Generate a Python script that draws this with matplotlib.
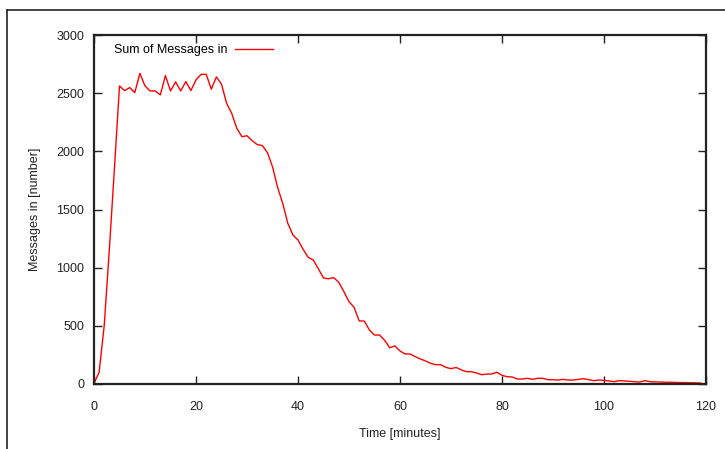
import matplotlib
matplotlib.use("Agg")
import matplotlib.pyplot as plt
from matplotlib.lines import Line2D

plt.rcParams['font.family'] = ['Liberation Sans', 'DejaVu Sans']

minutes = list(range(0, 120))
messages_in = [
    5, 100, 500, 1150, 1850, 2562, 2522, 2548, 2505, 2670,
    2562, 2519, 2519, 2485, 2651, 2519, 2597, 2519, 2600, 2522,
    2614, 2662, 2662, 2534, 2640, 2577, 2413, 2327, 2198, 2126,
    2134, 2092, 2058, 2050, 1989, 1868, 1690, 1553, 1381, 1281,
    1238, 1158, 1089, 1066, 989, 911, 905, 914, 874, 794,
    708, 659, 542, 541, 464, 421, 421, 375, 312, 327,
    284, 258, 258, 235, 215, 198, 178, 166, 166, 143,
    132, 142, 122, 106, 106, 95, 80, 85, 86, 101,
    74, 63, 60, 43, 43, 49, 40, 49, 49, 37,
    37, 34, 40, 34, 34, 40, 46, 37, 29, 34,
    31, 26, 20, 29, 26, 23, 20, 17, 29, 20,
    18, 17, 15, 15, 14, 12, 12, 10, 10, 8,
]
x_ticks = [0, 20, 40, 60, 80, 100, 120]
y_ticks = [0, 500, 1000, 1500, 2000, 2500, 3000]
series_label = "Sum of Messages in"

W, H = 725, 449
fig = plt.figure(figsize=(W / 100, H / 100), dpi=100)
ax = fig.add_axes([94 / W, (H - 384) / H, (706 - 94) / W, (384 - 35) / H])

ax.plot(minutes, messages_in, color='#ff0000', lw=1.0, label=series_label)

ax.set_xlim(0, 120)
ax.set_ylim(0, 3000)
ax.set_xticks(x_ticks)
ax.set_yticks(y_ticks)
ax.tick_params(direction='in', length=6, width=1, top=True, right=True,
               labelsize=9, colors='#222222', pad=7)
ax.tick_params(axis='x', pad=12)
for s in ax.spines.values():
    s.set_linewidth(1.6)
    s.set_color('#222222')

ax.set_xlabel("Time [minutes]", fontsize=9, color='#222222')
ax.set_ylabel("Messages in [number]", fontsize=9, color='#222222')
ax.xaxis.set_label_coords(0.5, (384 - 428) / 349)
ax.yaxis.set_label_coords((41 - 94) / 612, 0.5)

leg = ax.legend(loc='center left', bbox_to_anchor=((114 - 94) / 612, (384 - 50) / 349),
                frameon=False, markerfirst=False, fontsize=9, handlelength=3.0,
                handletextpad=0.6, borderpad=0, borderaxespad=0)

# outer frame (partially visible)
fig.add_artist(Line2D([7 / W, 7 / W], [0, 1 - 10 / H], transform=fig.transFigure,
                      color='#222222', lw=1.2))
fig.add_artist(Line2D([7 / W, 1], [1 - 10 / H, 1 - 10 / H], transform=fig.transFigure,
                      color='#222222', lw=1.2))

fig.savefig("out.png", dpi=100)
